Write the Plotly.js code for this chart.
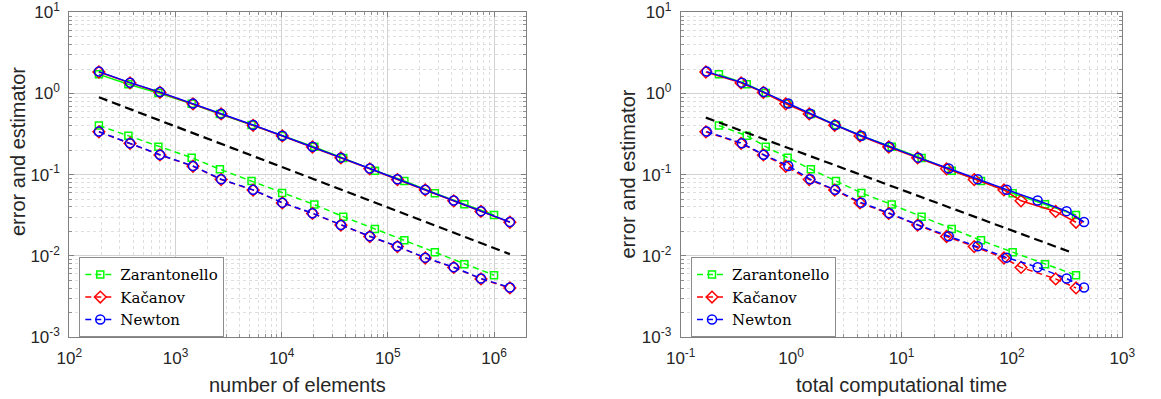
<!DOCTYPE html>
<html><head><meta charset="utf-8">
<script src="https://cdn.plot.ly/plotly-3.0.1.min.js"></script>
<style>html,body{margin:0;padding:0;background:#fff}#chart{width:1161px;height:399px}</style>
</head><body><div id="chart"></div>
<script>
// ---- data ----
const nZ = [190, 360, 690, 1420, 2620, 5200, 10100, 20300, 38000, 75500, 143000, 277000, 525000, 1000000];
const nK = [190, 373, 714, 1462, 2690, 5380, 10140, 19500, 36100, 67600, 123000, 225000, 417000, 753000, 1410000];
const nN = [190, 373, 714, 1462, 2690, 5380, 10140, 19500, 36100, 67600, 123000, 225000, 417000, 753000, 1410000];

const tZ = [0.222, 0.396, 0.589, 0.93, 1.51, 2.55, 4.33, 8.15, 15.2, 28.5, 52.5, 101.6, 199.5, 381];
const tK = [0.169, 0.352, 0.561, 0.894, 1.46, 2.48, 4.21, 7.66, 14.0, 25.6, 45.6, 84.7, 121, 249, 381];
const tN = [0.172, 0.359, 0.565, 0.944, 1.49, 2.51, 4.33, 7.76, 14.2, 26.8, 49, 89.7, 171, 313, 450];

const estZ = [1.72, 1.30, 1.01, 0.745, 0.56, 0.41, 0.30, 0.22, 0.16, 0.112, 0.0836, 0.0589, 0.0431, 0.0319];
const estK = [1.84, 1.35, 1.03, 0.745, 0.56, 0.405, 0.300, 0.219, 0.161, 0.118, 0.087, 0.0648, 0.0476, 0.0352, 0.0259];
const estN = [1.86, 1.36, 1.04, 0.75, 0.564, 0.409, 0.302, 0.221, 0.162, 0.119, 0.0877, 0.0653, 0.048, 0.0355, 0.0261];

const errZ = [0.402, 0.302, 0.221, 0.162, 0.1164, 0.0836, 0.0595, 0.0428, 0.0304, 0.0214, 0.0155, 0.0111, 0.0079, 0.00577];
const errK = [0.337, 0.243, 0.175, 0.127, 0.087, 0.0645, 0.0449, 0.0333, 0.0239, 0.0173, 0.013, 0.0094, 0.0072, 0.0052, 0.00402];
const errN = [0.339, 0.244, 0.176, 0.128, 0.0877, 0.065, 0.0452, 0.0335, 0.024, 0.0174, 0.0131, 0.0095, 0.00724, 0.00525, 0.00407];

const refLeftX = [190, 1410000];
const refLeftY = [0.9, 0.0105];
const refRightX = [0.169, 341];
const refRightY = [0.504, 0.0111];

const names = ['Zarantonello', 'Kačanov', 'Newton'];

const xLeftTickVals = [1e2, 1e3, 1e4, 1e5, 1e6];
const xLeftTickText = ['10<sup>2</sup>', '10<sup>3</sup>', '10<sup>4</sup>', '10<sup>5</sup>', '10<sup>6</sup>'];
const xRightTickVals = [1e-1, 1e0, 1e1, 1e2, 1e3];
const xRightTickText = ['10<sup>-1</sup>', '10<sup>0</sup>', '10<sup>1</sup>', '10<sup>2</sup>', '10<sup>3</sup>'];
const yTickVals = [1e-3, 1e-2, 1e-1, 1e0, 1e1];
const yTickText = ['10<sup>-3</sup>', '10<sup>-2</sup>', '10<sup>-1</sup>', '10<sup>0</sup>', '10<sup>1</sup>'];

// ---- layout helpers ----
const W = 1161, H = 399;
const px = x => x / W;
const py = y => 1 - y / H;

const cols = ['#00ff00', '#ff0000', '#0000ff'];
const syms = ['square-open', 'diamond-open', 'circle-open'];
const msz = [7, 9, 9];

function minorVals(lo, hi) {
  const v = [];
  for (let e = lo; e < hi; e++) for (let m = 2; m <= 9; m++) v.push(m * Math.pow(10, e));
  return v;
}

const traces = [];
function addSet(xs, ests, errs, xa, ya, leg) {
  for (let i = 0; i < 3; i++) {
    traces.push({
      x: xs[i], y: ests[i], xaxis: xa, yaxis: ya, type: 'scatter', mode: 'lines+markers',
      line: {color: cols[i], width: 1.5},
      marker: {symbol: syms[i], size: msz[i], color: cols[i], line: {color: cols[i], width: 1.5}},
      showlegend: false, hoverinfo: 'skip'
    });
  }
  for (let i = 0; i < 3; i++) {
    traces.push({
      x: xs[i], y: errs[i], xaxis: xa, yaxis: ya, type: 'scatter', mode: 'lines+markers',
      name: names[i], legend: leg,
      line: {color: cols[i], width: 1.5, dash: '6px,4px'},
      marker: {symbol: syms[i], size: msz[i], color: cols[i], line: {color: cols[i], width: 1.5}},
      showlegend: true, hoverinfo: 'skip'
    });
  }
}
addSet([nZ, nK, nN], [estZ, estK, estN], [errZ, errK, errN], 'x', 'y', 'legend');
traces.push({x: refLeftX, y: refLeftY, xaxis: 'x', yaxis: 'y', mode: 'lines', type: 'scatter',
  line: {color: '#000', width: 2.2, dash: '9px,5px'}, showlegend: false, hoverinfo: 'skip'});
addSet([tZ, tK, tN], [estZ, estK, estN], [errZ, errK, errN], 'x2', 'y2', 'legend2');
traces.push({x: refRightX, y: refRightY, xaxis: 'x2', yaxis: 'y2', mode: 'lines', type: 'scatter',
  line: {color: '#000', width: 2.2, dash: '9px,5px'}, showlegend: false, hoverinfo: 'skip'});

const tickFont = {family: 'Liberation Sans, Arial, sans-serif', size: 17, color: '#262626'};
function axis(range, tv, tt, minor, domain, anchor, isX) {
  return {
    type: 'log', range: range, domain: domain, anchor: anchor,
    tickmode: 'array', tickvals: tv, ticktext: tt, tickfont: tickFont,
    ticks: 'inside', ticklen: 5, tickcolor: '#808080', tickwidth: 1,
    showline: true, linecolor: '#808080', linewidth: 1, mirror: 'allticks',
    showgrid: true, gridcolor: '#d2d2d2', gridwidth: 1,
    ticklabelstandoff: isX ? 6 : 5,
    minor: {tickmode: 'array', tickvals: minor, ticks: 'inside', ticklen: 3, tickcolor: '#909090',
      showgrid: true, gridcolor: '#dedede', griddash: 'dot', gridwidth: 1},
    zeroline: false, fixedrange: true
  };
}

const yDom = [py(337), py(12.3)];
const legendBase = {
  xanchor: 'left', yanchor: 'top', y: py(257.3), bgcolor: '#ffffff', bordercolor: '#8c8c8c', borderwidth: 1,
  font: {family: 'DejaVu Serif, Liberation Serif, serif', size: 15, color: '#000'},
  tracegroupgap: 0, itemwidth: 30
};
const titleFont = {family: 'Liberation Sans, Arial, sans-serif', size: 20, color: '#262626'};

const layout = {
  width: W, height: H, margin: {l: 0, r: 0, t: 0, b: 0},
  paper_bgcolor: '#fff', plot_bgcolor: '#fff', showlegend: true,
  xaxis: axis([2, 6.298], xLeftTickVals, xLeftTickText, minorVals(2, 7), [px(69.3), px(525.7)], 'y', true),
  yaxis: axis([-3, 1], yTickVals, yTickText, minorVals(-3, 1), yDom, 'x', false),
  xaxis2: axis([-1, 3], xRightTickVals, xRightTickText, minorVals(-1, 3), [px(680.7), px(1122.3)], 'y2', true),
  yaxis2: axis([-3, 1], yTickVals, yTickText, minorVals(-3, 1), yDom, 'x2', false),
  legend: Object.assign({}, legendBase, {x: px(79.3)}),
  legend2: Object.assign({}, legendBase, {x: px(691)}),
  annotations: [
    {text: 'number of elements', xref: 'paper', yref: 'paper', x: px(297.5), y: py(385), xanchor: 'center', yanchor: 'middle', showarrow: false, font: titleFont},
    {text: 'total computational time', xref: 'paper', yref: 'paper', x: px(901.7), y: py(385), xanchor: 'center', yanchor: 'middle', showarrow: false, font: titleFont},
    {text: 'error and estimator', xref: 'paper', yref: 'paper', x: px(18), y: py(152), xanchor: 'center', yanchor: 'middle', textangle: -90, showarrow: false, font: titleFont},
    {text: 'error and estimator', xref: 'paper', yref: 'paper', x: px(627.5), y: py(174), xanchor: 'center', yanchor: 'middle', textangle: -90, showarrow: false, font: titleFont}
  ]
};

Plotly.newPlot('chart', traces, layout, {staticPlot: true, displayModeBar: false});
</script></body></html>
